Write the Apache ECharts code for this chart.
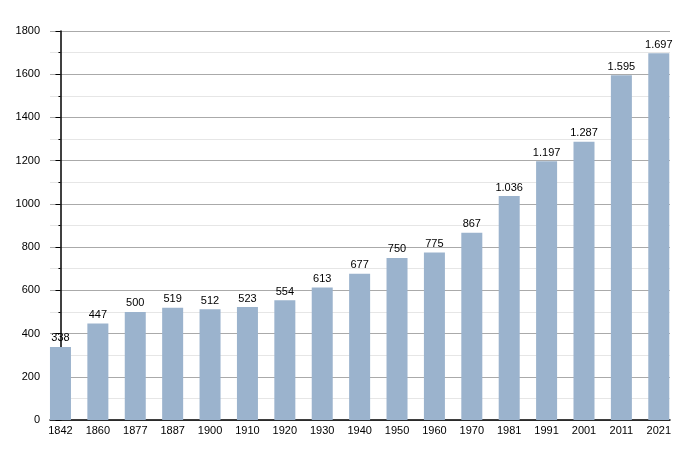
<!DOCTYPE html>
<html><head><meta charset="utf-8">
<script src="https://cdn.jsdelivr.net/npm/echarts@6/dist/echarts.min.js"></script>
<style>html,body{margin:0;padding:0;background:#fff}#c{width:700px;height:450px}</style>
</head><body><div id="c"></div>
<script>
const categories = ['1842','1860','1877','1887','1900','1910','1920','1930','1940','1950','1960','1970','1981','1991','2001','2011','2021'];
const population = [338,447,500,519,512,523,554,613,677,750,775,867,1036,1197,1287,1595,1697];
const yTicks = [0,200,400,600,800,1000,1200,1400,1600,1800];

function fmt(v){ return v >= 1000 ? Math.floor(v/1000) + '.' + String(v%1000).padStart(3,'0') : String(v); }

const chart = echarts.init(document.getElementById('c'));
const font = 'Liberation Sans, Arial, sans-serif';
chart.setOption({
  animation: false,
  grid: { left: 50, right: 30, top: 31, bottom: 30 },
  xAxis: {
    type: 'value', min: -0.28, max: 16.3,
    axisLine: { show: true, onZero: false, lineStyle: { color: '#000', width: 1.5 } },
    axisTick: { show: false },
    splitLine: { show: false },
    axisLabel: { customValues: categories.map((c,i)=>i), formatter: v => categories[Math.round(v)] || '', color: '#000', fontSize: 11, fontFamily: font, margin: 5 }
  },
  yAxis: {
    type: 'value', min: 0, max: 1800, interval: 200,
    axisLine: { show: true, lineStyle: { color: '#000', width: 1.5 } },
    axisTick: { show: true, length: 5, lineStyle: { color: '#000' } },
    minorTick: { show: true, splitNumber: 2, length: 2, lineStyle: { color: '#000' } },
    splitLine: { show: true, lineStyle: { color: '#aaaaaa', width: 1 } },
    minorSplitLine: { show: true, lineStyle: { color: '#e6e6e6', width: 1 } },
    axisLabel: { color: '#000', fontSize: 11, fontFamily: font, margin: 10, formatter: v => String(v) }
  },
  series: [{
    type: 'bar',
    barWidth: 21,
    data: population.map((v,i)=>[i,v]),
    itemStyle: { color: '#9bb3cd' },
    label: { show: true, position: 'top', distance: 3, color: '#000', fontSize: 11, fontFamily: font, formatter: p => fmt(p.value[1]) }
  }]
});
</script></body></html>
